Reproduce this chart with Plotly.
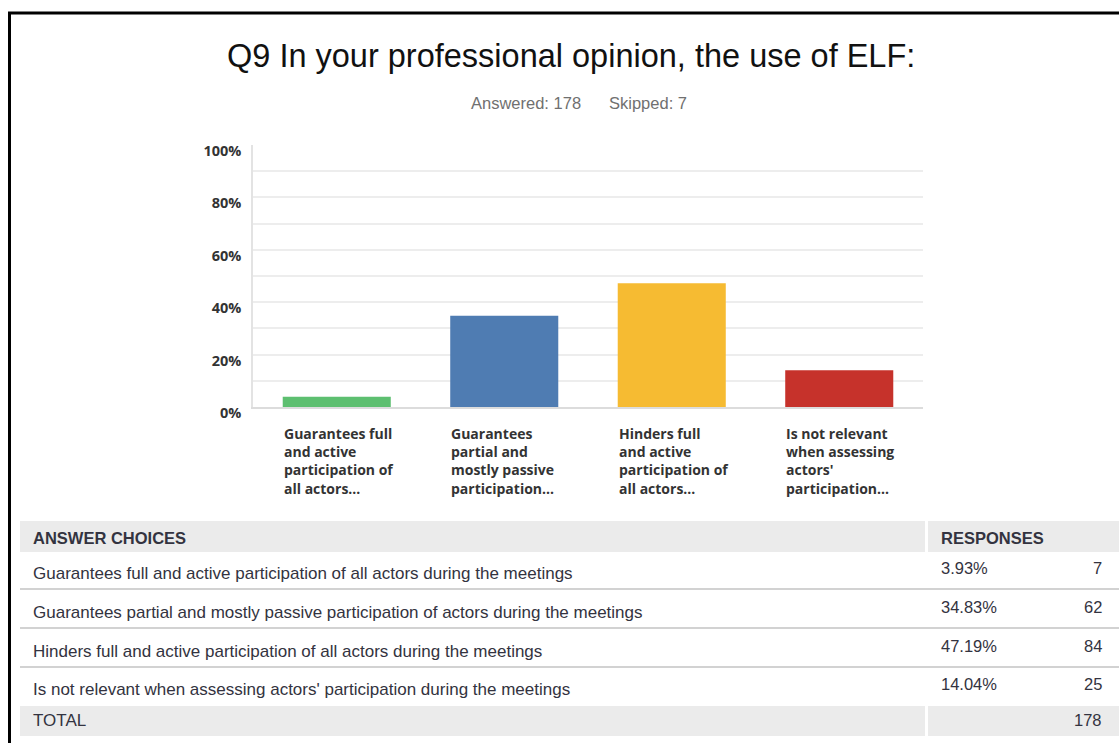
import plotly.graph_objects as go

W, H = 1119, 743

# Survey results
question = "Q9 In your professional opinion, the use of ELF:"
short_labels = [
    "Guarantees full<br>and active<br>participation of<br>all actors...",
    "Guarantees<br>partial and<br>mostly passive<br>participation...",
    "Hinders full<br>and active<br>participation of<br>all actors...",
    "Is not relevant<br>when assessing<br>actors'<br>participation...",
]
choices = [
    "Guarantees full and active participation of all actors during the meetings",
    "Guarantees partial and mostly passive participation of actors during the meetings",
    "Hinders full and active participation of all actors during the meetings",
    "Is not relevant when assessing actors' participation during the meetings",
]
percents = [3.93, 34.83, 47.19, 14.04]
counts = [7, 62, 84, 25]
skipped = 7
bar_colors = ["#5dbf70", "#4f7cb2", "#f6bb32", "#c6322b"]
y_ticks = [0, 20, 40, 60, 80, 100]

answered = sum(counts)


def px(x):
    return x / W


def py(y):
    return 1 - y / H


TEXT = "#333333"
BAR_W = 0.645

fig = go.Figure()
fig.add_trace(go.Bar(
    x=list(range(len(percents))),
    y=percents,
    width=BAR_W,
    marker=dict(color=bar_colors, line=dict(width=0)),
    hoverinfo="skip",
))

fig.update_layout(
    width=W, height=H,
    autosize=False,
    margin=dict(l=0, r=0, t=0, b=0, pad=0),
    paper_bgcolor="white",
    plot_bgcolor="white",
    showlegend=False,
    xaxis=dict(
        domain=[px(253), px(923)],
        range=[-0.5, 3.5],
        showticklabels=False,
        showgrid=False,
        zeroline=False,
        showline=True,
        linecolor="#dcdcdc",
        linewidth=2,
        automargin=False,
        fixedrange=True,
    ),
    yaxis=dict(
        domain=[py(407), py(145)],
        range=[0, 100],
        tickvals=y_ticks,
        ticktext=[f"{v}%" for v in y_ticks],
        ticks="",
        ticklabelstandoff=7,
        ticklabelshift=6,
        tickfont=dict(family="Open Sans", size=14.5, color=TEXT, weight=700),
        showgrid=True,
        gridcolor="#ededed",
        gridwidth=1.5,
        minor=dict(dtick=10, showgrid=True, gridcolor="#ededed", gridwidth=1.5),
        zeroline=False,
        showline=True,
        linecolor="#e3e3e3",
        linewidth=1.5,
        automargin=False,
        fixedrange=True,
    ),
)

annotations = []
shapes = []

# Title and response summary
annotations.append(dict(
    text=question, x=px(571), y=py(56), xref="paper", yref="paper",
    xanchor="center", yanchor="middle", showarrow=False,
    font=dict(family="Liberation Sans", size=32.5, color="#111111"),
))
annotations.append(dict(
    text=f"Answered: {answered}", x=px(526), y=py(103), xref="paper", yref="paper",
    xanchor="center", yanchor="middle", showarrow=False,
    font=dict(family="Liberation Sans", size=16.5, color="#707070"),
))
annotations.append(dict(
    text=f"Skipped: {skipped}", x=px(648), y=py(103), xref="paper", yref="paper",
    xanchor="center", yanchor="middle", showarrow=False,
    font=dict(family="Liberation Sans", size=16.5, color="#707070"),
))

# Category labels, left-aligned under each bar
for i, lab in enumerate(short_labels):
    annotations.append(dict(
        text=lab, x=i - BAR_W / 2, y=py(422), xref="x", yref="paper",
        xanchor="left", yanchor="top", align="left", showarrow=False,
        xshift=-1,
        font=dict(family="Open Sans", size=14, color=TEXT, weight=700),
    ))

# Outer frame
shapes.append(dict(type="line", xref="paper", yref="paper",
                   x0=px(8), x1=1, y0=py(13), y1=py(13),
                   line=dict(color="black", width=3)))
shapes.append(dict(type="line", xref="paper", yref="paper",
                   x0=px(9.5), x1=px(9.5), y0=py(12), y1=0,
                   line=dict(color="black", width=3)))

# Table backgrounds (header and total rows)
for top, bot in [(521, 552), (706, 736)]:
    shapes.append(dict(type="rect", xref="paper", yref="paper",
                       x0=px(20), x1=px(925), y0=py(bot), y1=py(top),
                       fillcolor="#ebebeb", line=dict(width=0), layer="below"))
    shapes.append(dict(type="rect", xref="paper", yref="paper",
                       x0=px(928), x1=1, y0=py(bot), y1=py(top),
                       fillcolor="#ebebeb", line=dict(width=0), layer="below"))

# Row separators
for yy in [589, 628, 667]:
    shapes.append(dict(type="line", xref="paper", yref="paper",
                       x0=px(20), x1=1, y0=py(yy), y1=py(yy),
                       line=dict(color="#d2d2d2", width=2)))

TABLE_FONT = dict(family="Liberation Sans", size=17, color="#333340")
NUM_FONT = dict(family="Liberation Sans", size=16.5, color="#333340")
HEAD_FONT = dict(family="Liberation Sans", size=16.5, color="#333340", weight=700)

annotations.append(dict(text="ANSWER CHOICES", x=px(31), y=py(538), xref="paper", yref="paper",
                        xanchor="left", yanchor="middle", showarrow=False, font=HEAD_FONT))
annotations.append(dict(text="RESPONSES", x=px(939), y=py(538), xref="paper", yref="paper",
                        xanchor="left", yanchor="middle", showarrow=False, font=HEAD_FONT))

row_text_y = [573, 612, 651, 689]
row_num_y = [568, 607, 646, 684]
for ch, pct, cnt, ty, ny in zip(choices, percents, counts, row_text_y, row_num_y):
    annotations.append(dict(text=ch, x=px(30.5), y=py(ty), xref="paper", yref="paper",
                            xanchor="left", yanchor="middle", showarrow=False, font=TABLE_FONT))
    annotations.append(dict(text=f"{pct:.2f}%", x=px(939), y=py(ny), xref="paper", yref="paper",
                            xanchor="left", yanchor="middle", showarrow=False, font=NUM_FONT))
    annotations.append(dict(text=str(cnt), x=px(1104), y=py(ny), xref="paper", yref="paper",
                            xanchor="right", yanchor="middle", showarrow=False, font=NUM_FONT))

annotations.append(dict(text="TOTAL", x=px(30.5), y=py(720), xref="paper", yref="paper",
                        xanchor="left", yanchor="middle", showarrow=False, font=TABLE_FONT))
annotations.append(dict(text=str(answered), x=px(1104), y=py(720), xref="paper", yref="paper",
                        xanchor="right", yanchor="middle", showarrow=False, font=NUM_FONT))

fig.update_layout(annotations=annotations, shapes=shapes)

fig.write_html("out.html", config={"displayModeBar": False})
